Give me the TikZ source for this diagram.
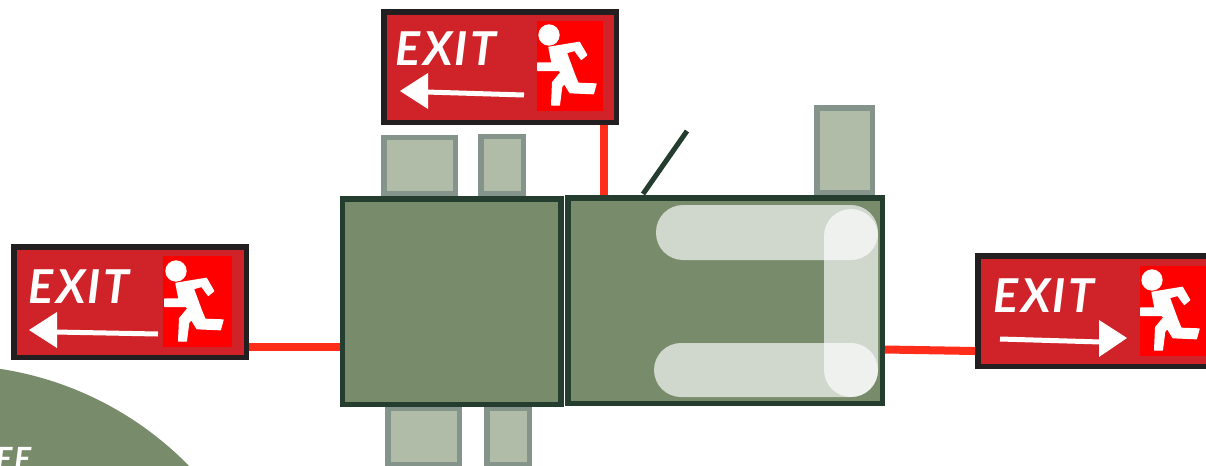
\documentclass[tikz,border=0pt]{standalone}
\usepackage{fontspec}
\newfontfamily\exitfont[LetterSpace=5]{Lato}
\def\U{0.75pt}
\definecolor{signred}{HTML}{CF2329}
\definecolor{signdark}{HTML}{231F20}
\definecolor{manred}{HTML}{FF0000}
\definecolor{wirered}{HTML}{FF2D1A}
\definecolor{sage}{HTML}{788B6B}
\definecolor{sagedark}{HTML}{243D2E}
\definecolor{sagelight}{HTML}{B0BBA8}
\definecolor{sageedge}{HTML}{85948A}
\tikzset{
  signbox/.style={rectangle,draw=signdark,fill=signred,line width=5.5*\U,inner sep=0pt,
    minimum width=#1*\U-5.5*\U,minimum height=116*\U-5.5*\U},
  mainbox/.style 2 args={rectangle,draw=sagedark,fill=sage,line width=5.5*\U,inner sep=0pt,
    minimum width=#1*\U-5.5*\U,minimum height=#2*\U-5.5*\U},
  smallbox/.style 2 args={rectangle,draw=sageedge,fill=sagelight,line width=5.5*\U,inner sep=0pt,
    minimum width=#1*\U-5.5*\U,minimum height=#2*\U-5.5*\U},
  wire/.style={draw=wirered,line width=8*\U},
  pill/.style={fill=white,fill opacity=.66,rounded corners=27*\U},
  exittext/.style={text=white,inner sep=0pt,font={\exitfont\bfseries\itshape\fontsize{35}{35}\selectfont}},
}
% running figure: local coordinates are thirds of a pixel from the square's corner
\newcommand{\runfigure}[2]{%
  \begin{scope}[shift={(#1,#2)},x=0.25pt,y=-0.25pt]
    \fill[white] (36,42) circle[radius=32];
    \path[fill=white,draw=white,line width=1pt,line join=round]
      (36,79) -- (127,64) -- (149,102) -- (133,115) -- (113,88) -- (88,95)
      -- (112,160) -- (123,187) -- (177,189) -- (169,218) -- (99,215) -- (82,187)
      -- (74,197) -- (67,252) -- (44,252) -- (47,184) -- (72,154) -- (66,148)
      -- (2,148) -- (2,126) -- (45,126) -- cycle;
  \end{scope}}
\begin{document}
\begin{tikzpicture}[x=\U,y=-\U]
  \useasboundingbox (0,0) rectangle (1206,465);
  \clip (0,0) rectangle (1206,465);

  % big disc and its cut-off text
  \fill[sage] (-51,701) circle[radius=336];
  \node[text=white,inner sep=0pt,anchor=north west,font={\exitfont\bfseries\itshape\fontsize{24}{24}\selectfont}] (disctext) at (-5,447) {EE};

  % small boxes
  \node[smallbox={77}{62}] (ta) at (419.8,165.5) {};
  \node[smallbox={48}{63}] (tb) at (502,165) {};
  \node[smallbox={61}{90}] (tc) at (844.5,150) {};
  \node[smallbox={77}{62}] (ba) at (423.5,436) {};
  \node[smallbox={48}{62}] (bb) at (508,436) {};

  % main boxes
  \node[mainbox={224}{211}] (boxl) at (451.5,301.5) {};
  \node[mainbox={320}{211}] (boxr) at (725,300.5) {};

  % translucent bands
  \path[pill] (656,205) rectangle (878,260);
  \path[pill] (654,343) rectangle (878,397);
  \path[pill] (824,209) rectangle (878,397);

  % signs
  \node[signbox=238] (signt) at (500,67) {};
  \node[signbox=238] (signl) at (130,302) {};
  \node[signbox=238] (signr) at (1094,311) {};

  % connectors
  \coordinate (wt) at (603.5,0);
  \coordinate (wl) at (0,346.5);
  \coordinate (wra) at (0,349.5);
  \coordinate (wrb) at (0,351);
  \coordinate (antb) at (643,194);
  \coordinate (ante) at (687,131);
  \draw[wire] (signt.south -| wt) -- (boxr.north -| wt);
  \draw[wire] (signl.east |- wl) -- (boxl.west |- wl);
  \draw[wire] (boxr.east |- wra) -- (signr.west |- wrb);
  \draw[draw=sagedark,line width=5*\U] (antb) -- (ante);

  % top sign
  \fill[manred] (537,21) rectangle (603,111);
  \runfigure{537}{21}
  \node[exittext,anchor=center] (exitt) at (446,49) {EXIT};
  \fill[white] (400,91) -- (428,73) -- (428,109) -- cycle;
  \draw[white,line width=5*\U] (426,92) -- (524,95);

  % left sign
  \fill[manred] (163,256) rectangle (232,347);
  \runfigure{164}{257}
  \node[exittext,anchor=center] (exitl) at (79,286.5) {EXIT};
  \fill[white] (29,330) -- (57,312) -- (57,348) -- cycle;
  \draw[white,line width=5*\U] (55,332) -- (158,334);

  % right sign
  \fill[manred] (1140,266) rectangle (1206,356);
  \runfigure{1140}{266}
  \node[exittext,anchor=center] (exitr) at (1044,295.5) {EXIT};
  \fill[white] (1127,338) -- (1099,320) -- (1099,357) -- cycle;
  \draw[white,line width=5*\U] (1000,339) -- (1101,342);
\end{tikzpicture}
\end{document}
